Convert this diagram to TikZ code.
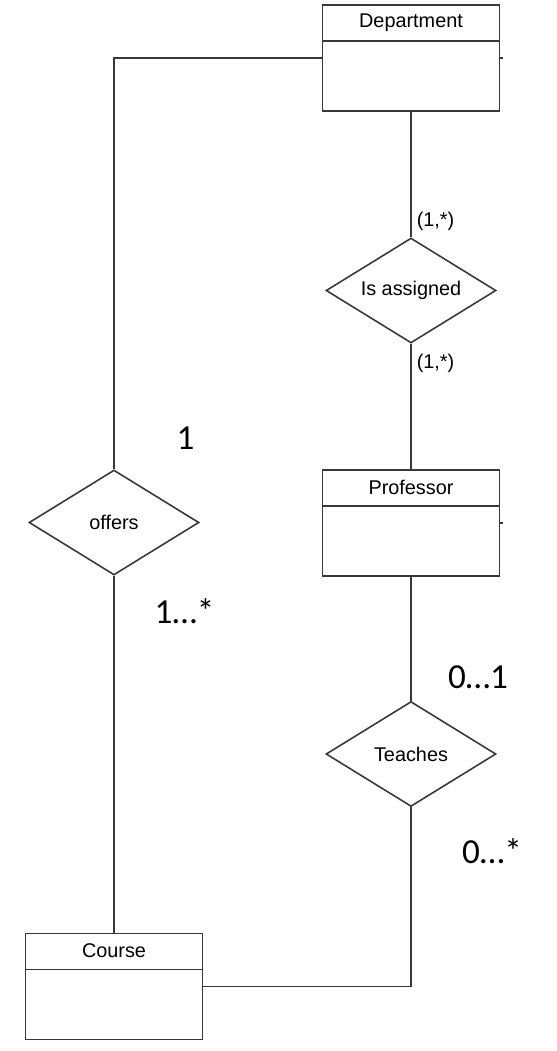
\documentclass[tikz,border=0pt]{standalone}
\usepackage{fontspec}
\setmainfont{Liberation Sans}
\newfontfamily\cardfont{Carlito}
\usetikzlibrary{shapes.geometric}
\usetikzlibrary{positioning}
\definecolor{linegray}{rgb}{0.22,0.22,0.22}

\tikzset{
  entity/.style={draw, minimum width=3.54cm, minimum height=2.12cm, inner sep=0pt},
  enthead/.style={anchor=north, minimum height=0.7cm, inner sep=0pt,
    font=\fontsize{11.3}{13}\selectfont},
  relation/.style={draw, diamond, aspect=1.6, minimum width=3.4cm,
    minimum height=2.1cm, inner sep=0pt, font=\fontsize{11.3}{13}\selectfont},
  card/.style={anchor=west, inner sep=0pt, font=\fontsize{11.3}{13}\selectfont},
  mult/.style={inner sep=0pt, font=\cardfont\fontsize{20}{24}\selectfont},
}

\begin{document}
\begin{tikzpicture}[%
  x=0.02cm, y=-0.02cm,
  line width=0.9pt,
  draw=linegray,
]

  \useasboundingbox (0,0) rectangle (557,1051);

  % entities
  \node[entity] (dept) at (411,58) {};
  \node[enthead] (depthd) at (dept.north) {Department};
  \node[entity] (prof) at (411,523) {};
  \node[enthead] (profhd) at (prof.north) {Professor};
  \node[entity] (course) at (114,986.5) {};
  \node[enthead] (coursehd) at (course.north) {Course};

  \draw (depthd.south -| dept.west) -- (depthd.south -| dept.east);
  \draw (profhd.south -| prof.west) -- (profhd.south -| prof.east);
  \draw (coursehd.south -| course.west) -- (coursehd.south -| course.east);

  % relations
  \node[relation] (assigned) at (411,290.5) {Is assigned};
  \node[relation] (teaches) at (411,754) {Teaches};
  \node[relation] (offers) at (114,522.5) {offers};

  \draw (dept.west) -| (offers.north);
  \draw (offers.south) -- (course.north);
  \draw (dept.south) -- (assigned.north);
  \draw (assigned.south) -- (prof.north);
  \draw (prof.south) -- (teaches.north);
  \draw (teaches.south) |- (course.east);

  % small stubs on the right edges
  \draw (dept.east) -- ++(3,0);
  \draw (prof.east) -- ++(3,0);

  % cardinalities
  \node[card] (cdept) at (416,221) {(1,*)};
  \node[card] (cprof) at (416,363) {(1,*)};

  \node[mult] (moffd) at (185.5,438.5) {1};
  \node[mult] (moffc) at (184.5,611) {1…*};
  \node[mult] (mteap) at (478,677.5) {0…1};
  \node[mult] (mteac) at (492,851.5) {0…*};

\end{tikzpicture}
\end{document}
